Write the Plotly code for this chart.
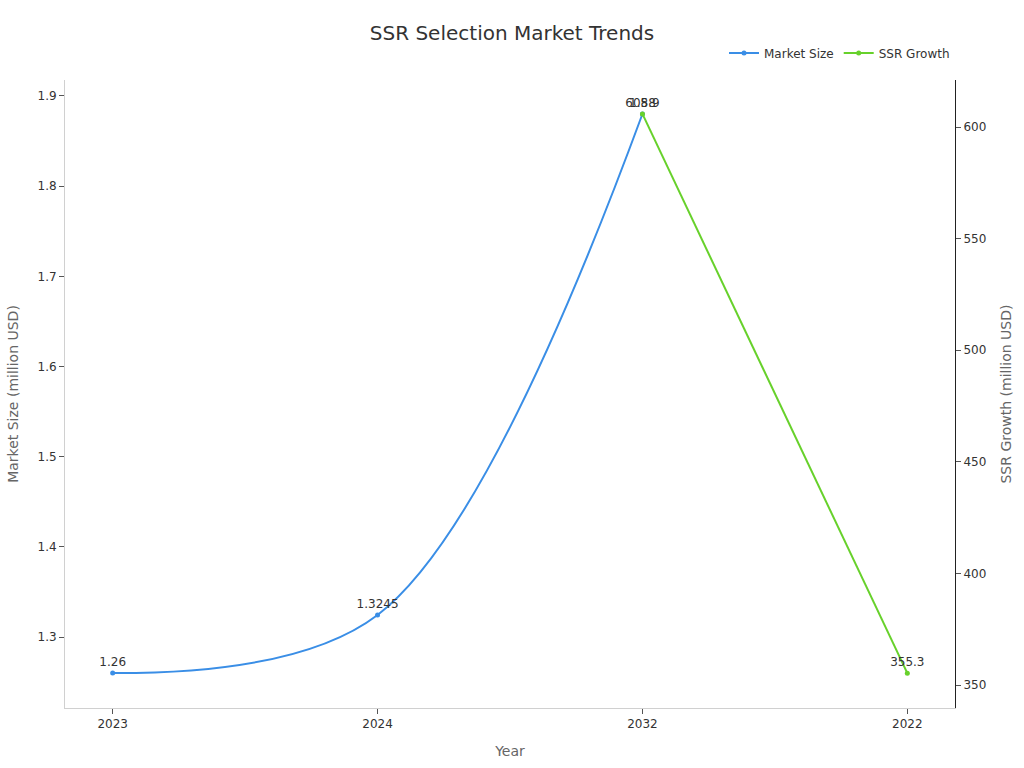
import plotly.graph_objects as go

years = ["2023", "2024", "2032", "2022"]
market_x = ["2023", "2024", "2032"]
market_size = [1.26, 1.3245, 1.88]
growth_x = ["2032", "2022"]
ssr_growth = [605.9, 355.3]

BLUE = "#3a8ee6"
GREEN = "#67d12b"
FONT = "DejaVu Sans, Verdana, sans-serif"

fig = go.Figure()
fig.add_trace(go.Scatter(
    x=market_x, y=market_size, name="Market Size", mode="lines+markers+text",
    line=dict(color=BLUE, width=2, shape="spline"), marker=dict(size=5, color=BLUE),
    text=[str(v) for v in market_size], textposition="top center",
    textfont=dict(size=12, color="#333333"), cliponaxis=False,
))
fig.add_trace(go.Scatter(
    x=growth_x, y=ssr_growth, name="SSR Growth", mode="lines+markers+text", yaxis="y2",
    line=dict(color=GREEN, width=2), marker=dict(size=5, color=GREEN),
    text=[str(v) for v in ssr_growth], textposition="top center",
    textfont=dict(size=12, color="#333333"), cliponaxis=False,
))

fig.update_layout(
    width=1024, height=768,
    margin=dict(l=65, r=69, t=80, b=60),
    paper_bgcolor="white", plot_bgcolor="white",
    font=dict(family=FONT, size=12, color="#333333"),
    title=dict(text="SSR Selection Market Trends", x=0.5, xanchor="center", y=0.957, yanchor="middle",
               font=dict(size=20, color="#333333", family=FONT)),
    legend=dict(orientation="h", x=1.0, xanchor="right", y=1.043, yanchor="middle",
                font=dict(size=12, color="#333333"), bgcolor="rgba(0,0,0,0)"),
    xaxis=dict(type="category", categoryorder="array", categoryarray=years,
               range=[-0.18, 3.18], showgrid=False, zeroline=False,
               showline=True, linecolor="#d0d0d0", linewidth=1, mirror=False,
               ticks="outside", ticklen=5, tickcolor="#555555",
               title=dict(text="Year", font=dict(size=14, color="#666666"), standoff=15),
               tickfont=dict(size=12, color="#333333")),
    yaxis=dict(range=[1.2213, 1.9177], dtick=0.1, showgrid=False, zeroline=False,
               showline=True, linecolor="#d0d0d0", linewidth=1,
               ticks="outside", ticklen=5, tickcolor="#555555",
               title=dict(text="Market Size (million USD)", font=dict(size=14, color="#666666"), standoff=15),
               tickfont=dict(size=12, color="#333333")),
    yaxis2=dict(overlaying="y", side="right", range=[339.7, 621.1], dtick=50,
                showgrid=False, zeroline=False, showline=True, linecolor="#222222", linewidth=1,
                ticks="outside", ticklen=5, tickcolor="#555555",
                title=dict(text="SSR Growth (million USD)", font=dict(size=14, color="#666666"), standoff=15),
                tickfont=dict(size=12, color="#333333")),
)

fig.write_html("out.html")
